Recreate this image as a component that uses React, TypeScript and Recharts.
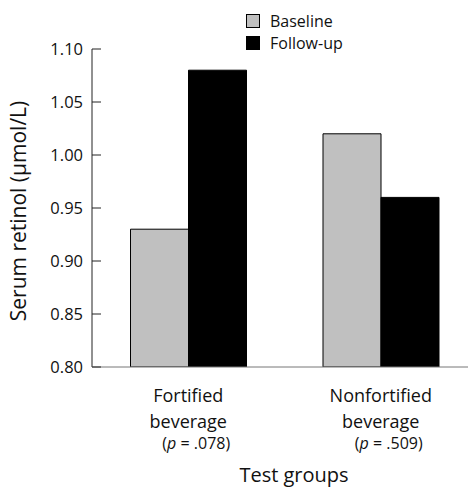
import { BarChart, Bar, XAxis, YAxis } from 'recharts';

// values
const groups = ['Fortified beverage', 'Nonfortified beverage'];
const pValues = ['.078', '.509'];
const baseline = [0.93, 1.02];
const followUp = [1.08, 0.96];
const yTicks = [0.8, 0.85, 0.9, 0.95, 1.0, 1.05, 1.1];

const FONT = '"Open Sans", sans-serif';

const data = groups.map((g, i) => ({
  group: g,
  p: pValues[i],
  baseline: baseline[i],
  followUp: followUp[i],
}));

const YTick = (props: any) => {
  const { x, y, payload } = props;
  return (
    <g>
      <line x1={x} x2={x + 9} y1={y} y2={y} stroke="#222" />
      <text x={x - 9} y={y} dy="0.36em" textAnchor="end" fontSize={16.5} fontFamily={FONT} fill="#111">
        {payload.value.toFixed(2)}
      </text>
    </g>
  );
};

const XTick = (props: any) => {
  const { x, y, payload, index } = props;
  const [first, second] = String(payload.value).split(' ');
  return (
    <g fontFamily={FONT} fill="#111">
      <text x={x} y={y + 35} textAnchor="middle" fontSize={18}>{first}</text>
      <text x={x} y={y + 61} textAnchor="middle" fontSize={18}>{second}</text>
      <text x={x + 8} y={y + 82} textAnchor="middle" fontSize={16}>
        (<tspan fontStyle="italic">p</tspan> = {pValues[index]})
      </text>
    </g>
  );
};

const legendItems = [
  { label: 'Baseline', color: '#c0c0c0' },
  { label: 'Follow-up', color: '#000' },
];

const LegendBox = () => (
  <div
    style={{
      position: 'absolute',
      left: 246,
      top: 10,
      fontFamily: FONT,
      fontSize: 16,
      color: '#111',
      lineHeight: '22px',
    }}
  >
    {legendItems.map((item) => (
      <div key={item.label} style={{ display: 'flex', alignItems: 'center' }}>
        <span
          style={{
            display: 'inline-block',
            width: 12,
            height: 12,
            background: item.color,
            border: '1px solid #000',
            marginRight: 10,
          }}
        />
        {item.label}
      </div>
    ))}
  </div>
);

export default function App() {
  return (
    <div style={{ position: 'absolute', left: 0, top: 0, width: 468, height: 495, overflow: 'hidden', background: '#fff' }}>
      <BarChart
        width={480}
        height={495}
        data={data}
        margin={{ top: 49, right: 3, left: 0, bottom: 0 }}
        barCategoryGap="20%"
        barGap={0}
      >
        <YAxis
          width={92}
          domain={[0.8, 1.1]}
          ticks={yTicks}
          interval={0}
          allowDataOverflow
          tickLine={false}
          tickSize={0}
          tickMargin={0}
          axisLine={{ stroke: '#222' }}
          tick={<YTick />}
          label={{
            content: () => (
              <text
                x={18}
                y={211}
                transform="rotate(-90 18 211)"
                textAnchor="middle"
                dominantBaseline="central"
                fontSize={21}
                fontFamily={FONT}
                fill="#111"
              >
                Serum retinol (µmol/L)
              </text>
            ),
          }}
        />
        <XAxis
          dataKey="group"
          height={128}
          tickLine={false}
          tickSize={0}
          tickMargin={0}
          interval={0}
          axisLine={{ stroke: '#777' }}
          tick={<XTick />}
          label={{
            content: () => (
              <text x={294} y={482} textAnchor="middle" fontSize={20} fontFamily={FONT} fill="#111">
                Test groups
              </text>
            ),
          }}
        />
        <Bar dataKey="baseline" name="Baseline" fill="#c0c0c0" stroke="#000" strokeWidth={1} isAnimationActive={false} />
        <Bar dataKey="followUp" name="Follow-up" fill="#000" stroke="#000" strokeWidth={1} isAnimationActive={false} />
      </BarChart>
      <LegendBox />
    </div>
  );
}
